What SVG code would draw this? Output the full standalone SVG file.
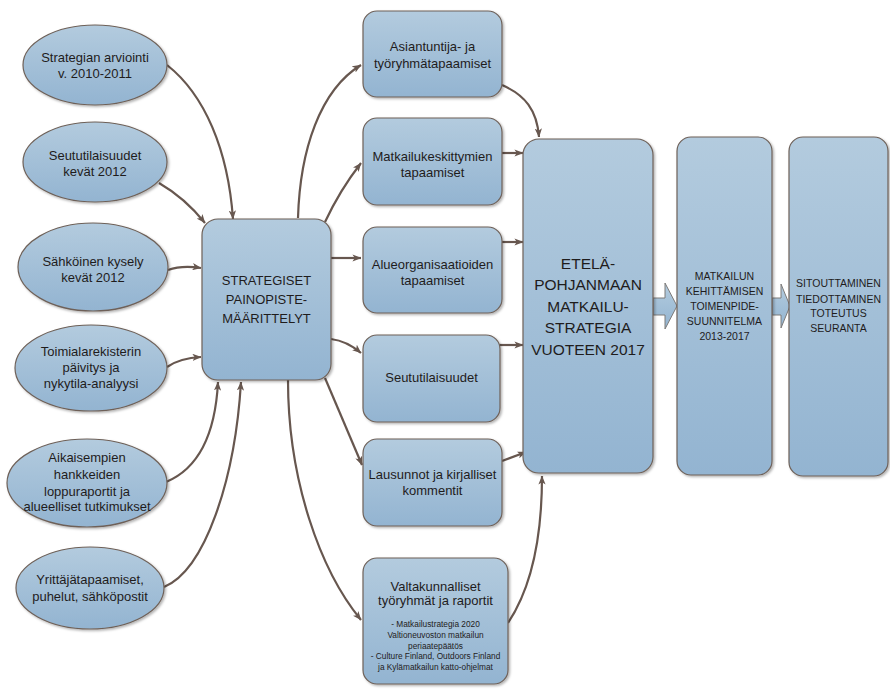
<svg xmlns="http://www.w3.org/2000/svg" width="890" height="689" viewBox="0 0 890 689">
  <defs>
    <linearGradient id="fillBlue" x1="0" y1="0" x2="0" y2="1">
      <stop offset="0" stop-color="#b3cbde"/>
      <stop offset="1" stop-color="#93b4d1"/>
    </linearGradient>
    <filter id="shadow" x="-10%" y="-10%" width="125%" height="125%">
      <feDropShadow dx="1.5" dy="1.5" stdDeviation="1" flood-color="#000" flood-opacity="0.3"/>
    </filter>
    <marker id="arrow" viewBox="0 0 10 8" markerWidth="9" markerHeight="7.5" refX="9.5" refY="4" orient="auto" markerUnits="userSpaceOnUse">
      <path d="M0,0 L10,4 L0,8 L2.5,4 z" fill="#67574f"/>
    </marker>
  </defs>
  <style>
    .node { fill: url(#fillBlue); stroke: #6e6159; stroke-width: 1.2; filter: url(#shadow); }
    .lbl { font-family: "Liberation Sans", Arial, sans-serif; font-size: 13px; fill: #1f1c1c; text-anchor: middle; }
    .big { font-size: 15.5px; }
    .cap { font-size: 10.5px; }
    .small { font-size: 8.3px; }
    .conn { fill: none; stroke: #67574f; stroke-width: 2.2; marker-end: url(#arrow); }
    .block { fill: url(#fillBlue); stroke: #7d7a78; stroke-width: 1; }
  </style>

  <!-- connectors -->
  <g id="connectors">
    <path class="conn" d="M167,65 C205,95 228,150 233,219"/>
    <path class="conn" d="M159,183 Q185,198 205,223"/>
    <path class="conn" d="M168,270 Q182,265 201,268"/>
    <path class="conn" d="M167,367 Q180,358 201,357"/>
    <path class="conn" d="M166,482 C195,470 215,440 218,382"/>
    <path class="conn" d="M164,587 C205,570 235,480 241,382"/>
    <path class="conn" d="M298,218 C300,150 320,90 361,65"/>
    <path class="conn" d="M325,222 Q340,190 361,163"/>
    <path class="conn" d="M331,258 L361,258"/>
    <path class="conn" d="M331,339 Q347,341 361,353"/>
    <path class="conn" d="M325,378 Q343,420 362,465"/>
    <path class="conn" d="M288,380 C288,480 320,570 361,620"/>
    <path class="conn" d="M502,85 C525,95 537,110 539,137"/>
    <path class="conn" d="M501,153 L523,153"/>
    <path class="conn" d="M502,242 L523,242"/>
    <path class="conn" d="M498,345 L523,345"/>
    <path class="conn" d="M502,461 L526,452"/>
    <path class="conn" d="M508,623 C530,590 542,540 542,476"/>
    <path class="block" d="M653,298 L665,298 L665,283 L677,306 L665,329 L665,315 L653,315 z"/>
    <path class="block" d="M772,298 L781,298 L781,284 L790,306 L781,328 L781,315 L772,315 z"/>
  </g>

  <!-- source ellipses -->
  <g id="src-arviointi">
    <ellipse class="node" cx="95" cy="65" rx="72" ry="40"/>
    <text class="lbl" x="95" y="61.5">Strategian arviointi</text>
    <text class="lbl" x="95" y="77.5">v. 2010-2011</text>
  </g>
  <g id="src-seututilaisuudet">
    <ellipse class="node" cx="95" cy="162" rx="72" ry="40"/>
    <text class="lbl" x="95" y="159.5">Seututilaisuudet</text>
    <text class="lbl" x="95" y="176">kevät 2012</text>
  </g>
  <g id="src-kysely">
    <ellipse class="node" cx="93" cy="267" rx="75" ry="44"/>
    <text class="lbl" x="93" y="266">Sähköinen kysely</text>
    <text class="lbl" x="93" y="282">kevät 2012</text>
  </g>
  <g id="src-toimiala">
    <ellipse class="node" cx="91" cy="368" rx="76" ry="43"/>
    <text class="lbl" x="91" y="356">Toimialarekisterin</text>
    <text class="lbl" x="91" y="372">päivitys ja</text>
    <text class="lbl" x="91" y="388">nykytila-analyysi</text>
  </g>
  <g id="src-hankkeet">
    <ellipse class="node" cx="87" cy="483" rx="80" ry="44"/>
    <text class="lbl" x="87" y="462">Aikaisempien</text>
    <text class="lbl" x="87" y="479">hankkeiden</text>
    <text class="lbl" x="87" y="496">loppuraportit ja</text>
    <text class="lbl" x="87" y="511">alueelliset tutkimukset</text>
  </g>
  <g id="src-yrittajat">
    <ellipse class="node" cx="90" cy="588" rx="74" ry="41"/>
    <text class="lbl" x="90" y="584">Yrittäjätapaamiset,</text>
    <text class="lbl" x="90" y="601">puhelut, sähköpostit</text>
  </g>

  <!-- central hub -->
  <g id="painopisteet">
    <rect class="node" x="202" y="219" width="129" height="161" rx="16"/>
    <text class="lbl" x="266.5" y="284.5">STRATEGISET</text>
    <text class="lbl" x="266.5" y="303.5">PAINOPISTE-</text>
    <text class="lbl" x="266.5" y="322.5">MÄÄRITTELYT</text>
  </g>

  <!-- meeting / input boxes -->
  <g id="asiantuntija">
    <rect class="node" x="363" y="11" width="139" height="86" rx="14"/>
    <text class="lbl" x="432.5" y="51">Asiantuntija- ja</text>
    <text class="lbl" x="432.5" y="67.5">työryhmätapaamiset</text>
  </g>
  <g id="keskittymat">
    <rect class="node" x="363" y="118" width="139" height="87" rx="14"/>
    <text class="lbl" x="432.5" y="160.5">Matkailukeskittymien</text>
    <text class="lbl" x="432.5" y="177">tapaamiset</text>
  </g>
  <g id="alueorganisaatiot">
    <rect class="node" x="363" y="227" width="139" height="86" rx="14"/>
    <text class="lbl" x="432.5" y="268.5">Alueorganisaatioiden</text>
    <text class="lbl" x="432.5" y="285">tapaamiset</text>
  </g>
  <g id="seututilaisuudet">
    <rect class="node" x="363" y="335" width="137" height="87" rx="14"/>
    <text class="lbl" x="431.5" y="381.5">Seututilaisuudet</text>
  </g>
  <g id="lausunnot">
    <rect class="node" x="363" y="439" width="139" height="87" rx="14"/>
    <text class="lbl" x="432.5" y="478.5">Lausunnot ja kirjalliset</text>
    <text class="lbl" x="432.5" y="494.5">kommentit</text>
  </g>
  <g id="valtakunnalliset">
    <rect class="node" x="363" y="558" width="145" height="126" rx="14"/>
    <text class="lbl" x="435.5" y="590.5">Valtakunnalliset</text>
    <text class="lbl" x="435.5" y="604.5">työryhmät ja raportit</text>
    <text class="lbl small" x="435.5" y="627">- Matkailustrategia 2020</text>
    <text class="lbl small" x="435.5" y="638">Valtioneuvoston matkailun</text>
    <text class="lbl small" x="435.5" y="648.5">periaatepäätös</text>
    <text class="lbl small" x="435.5" y="659">- Culture Finland, Outdoors Finland</text>
    <text class="lbl small" x="435.5" y="670">ja Kylämatkailun katto-ohjelmat</text>
  </g>

  <!-- strategy and follow-up columns -->
  <g id="strategia">
    <rect class="node" x="523" y="139" width="130" height="334" rx="16"/>
    <text class="lbl big" x="588" y="268.5">ETELÄ-</text>
    <text class="lbl big" x="588" y="289.5">POHJANMAAN</text>
    <text class="lbl big" x="588" y="311.5">MATKAILU-</text>
    <text class="lbl big" x="588" y="332.5">STRATEGIA</text>
    <text class="lbl big" x="588" y="354.5">VUOTEEN 2017</text>
  </g>
  <g id="toimenpidesuunnitelma">
    <rect class="node" x="677" y="137" width="95" height="338" rx="14"/>
    <text class="lbl cap" x="724.5" y="280">MATKAILUN</text>
    <text class="lbl cap" x="724.5" y="295">KEHITTÄMISEN</text>
    <text class="lbl cap" x="724.5" y="310">TOIMENPIDE-</text>
    <text class="lbl cap" x="724.5" y="325">SUUNNITELMA</text>
    <text class="lbl cap" x="724.5" y="340">2013-2017</text>
  </g>
  <g id="toteutus">
    <rect class="node" x="789" y="137" width="99" height="339" rx="14"/>
    <text class="lbl cap" x="838.5" y="287">SITOUTTAMINEN</text>
    <text class="lbl cap" x="838.5" y="302.5">TIEDOTTAMINEN</text>
    <text class="lbl cap" x="838.5" y="317">TOTEUTUS</text>
    <text class="lbl cap" x="838.5" y="332">SEURANTA</text>
  </g>
</svg>
